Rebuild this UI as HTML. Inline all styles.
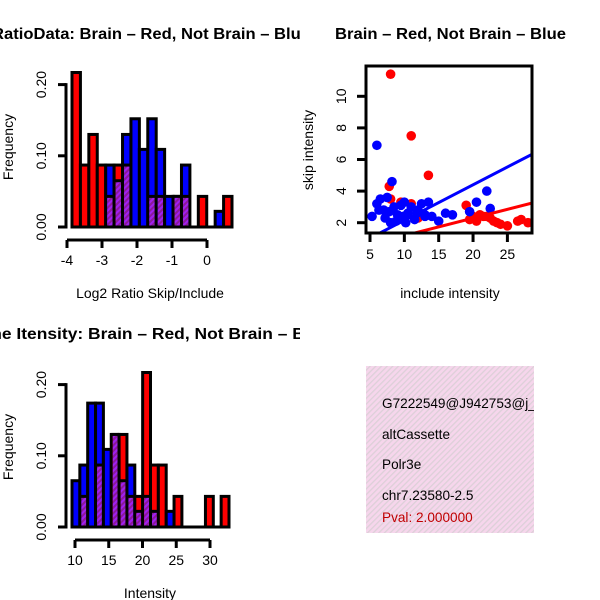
<!DOCTYPE html>
<html><head><meta charset="utf-8"><style>
body{margin:0;background:#fff}
svg{font-family:"Liberation Sans",sans-serif;display:block}
</style></head><body>
<svg id="c" width="600" height="600" viewBox="0 0 600 600">
<defs>
<pattern id="hatchP" width="4" height="4" patternUnits="userSpaceOnUse" patternTransform="rotate(45)"><rect width="4" height="4" fill="#8b1a9a"/><rect width="2" height="4" fill="#a020f0"/></pattern>
<pattern id="pinkH" width="4" height="4" patternUnits="userSpaceOnUse" patternTransform="rotate(45)"><rect width="4" height="4" fill="#f6d6ec"/><rect width="1.3" height="4" fill="#ddd0d8"/></pattern>
<clipPath id="cl1"><rect x="0" y="0" width="300" height="300"/></clipPath>
<clipPath id="cl3"><rect x="0" y="300" width="300" height="300"/></clipPath>
<clipPath id="cl2"><rect x="366" y="66" width="166" height="167"/></clipPath>
</defs>
<g clip-path="url(#cl1)"><text x="-8" y="39" font-weight="bold" font-size="16" textLength="318" lengthAdjust="spacingAndGlyphs">RatioData: Brain – Red, Not Brain – Blue</text></g>
<text x="335" y="39" font-weight="bold" font-size="16" textLength="231" lengthAdjust="spacingAndGlyphs">Brain – Red, Not Brain – Blue</text>
<g clip-path="url(#cl3)"><text x="-32" y="339" font-weight="bold" font-size="16" textLength="362" lengthAdjust="spacingAndGlyphs">Gene Itensity: Brain – Red, Not Brain – Blue</text></g>
<g id="p1"></g><g id="p2"></g><g id="p3"></g>
<g>
<rect x="366" y="366" width="168" height="167" fill="url(#pinkH)"/>
<svg x="366" y="366" width="168" height="167" overflow="hidden"><g font-size="13.6">
<text x="16" y="42">G7222549@J942753@j_</text>
<text x="16" y="73">altCassette</text>
<text x="16" y="103">Polr3e</text>
<text x="16" y="134">chr7.23580-2.5</text>
<text x="16" y="156" fill="#c00000">Pval: 2.000000</text>
</g></svg></g>
</svg>
<script>
const ratioRed=[0.217,0.087,0.13,0.087,0.043,0.087,0.087,0,0,0.043,0.043,0,0.043,0.043,0,0.043,0,0,0.043];
const ratioBlue=[0,0,0,0,0.087,0.065,0.13,0.152,0.109,0.152,0.109,0.043,0.043,0.087,0,0,0,0.022,0];
const ratioTicks=[-4,-3,-2,-1,0];
const intRed=[0,0.043,0,0.087,0,0.13,0.13,0.043,0.043,0.217,0.087,0.087,0,0.043,0,0,0,0.043,0,0.043];
const intBlue=[0.065,0.087,0.174,0.174,0.109,0.13,0.065,0.087,0.022,0.043,0.022,0,0.022,0,0,0,0,0,0,0];
const intTicks=[10,15,20,25,30];
const freqTicks=[0,0.1,0.2];
const redX=[8,11,13.5,7.8,8,9.5,11,12,19,20,21,22,23,24,25,26.5,27,28,19.5,22.5,20.5,21.5,23.5];
const redY=[11.4,7.5,5,4.3,3.5,3.3,3.2,2.3,3.1,2.4,2.5,2.4,2.1,1.9,1.8,2.1,2.2,2.0,2.2,2.3,2.1,2.4,2.0];
const blueX=[6,8.2,5.3,6,6.5,7,7.5,8,8.5,9,9.5,10,10.5,11,11.5,12,12.5,13,13.5,14,6.3,7.2,8.8,9.8,15,16,17,19.5,20.5,22,22.5,10.2,11.8,13,7.8];
const blueY=[6.9,4.6,2.4,3.2,3.5,2.8,3.6,2.0,3.0,2.5,3.1,3.3,2.6,3.0,2.2,2.8,3.2,2.5,3.3,2.4,2.8,2.3,2.1,2.4,2.1,2.6,2.5,2.7,3.3,4.0,2.9,2.0,2.6,2.4,2.7];
const fitBlue=[0.225,-0.1], fitRed=[0.111,0.07];
const xTicks=[5,10,15,20,25], yTicks=[2,4,6,8,10];
const NS="http://www.w3.org/2000/svg";
const FS=14;
function mk(p,t,a){const e=document.createElementNS(NS,t);for(const k in a)e.setAttribute(k,a[k]);p.appendChild(e);return e;}
function hist(g,red,blue,ticks,x0,x1,px0,ppu,v0,oy,xlab,name){
  const y=v=>oy+160-v/0.1*71.2;
  const xs=v=>px0+(v-v0)*ppu;
  const n=red.length,bw=(x1-x0)/n;
  for(let i=0;i<n;i++){const r=red[i],b=blue[i];if(r===0&&b===0)continue;
    const mx=Math.max(r,b),mn=Math.min(r,b);const bx=x0+i*bw;
    const big=mk(g,'rect',{x:bx,y:y(mx),width:bw,height:y(0)-y(mx),fill:r>=b?'#ff0000':'#0000ff',stroke:'#000','stroke-width':3});
    
    
    if(mn>0){const o=mk(g,'rect',{x:bx+1.5,y:y(mn),width:bw-3,height:y(0)-y(mn)-1.5,fill:'url(#hatchP)'});
      
      
      mk(g,'line',{x1:bx,x2:bx+bw,y1:y(mn),y2:y(mn),stroke:'#000','stroke-width':3});}
  }
  mk(g,'line',{x1:x0,x2:x1,y1:y(0),y2:y(0),stroke:'#000','stroke-width':3});
  mk(g,'line',{x1:66,x2:66,y1:y(0)+1.5,y2:y(0.2)-1.5,stroke:'#000','stroke-width':3});
  freqTicks.forEach(t=>{mk(g,'line',{x1:58,x2:66,y1:y(t),y2:y(t),stroke:'#000','stroke-width':3});
    const tx=mk(g,'text',{x:46,y:y(t),'font-size':FS,'text-anchor':'middle',transform:`rotate(-90 46 ${y(t)})`});tx.textContent=t.toFixed(2);
    
    });
  const ax=oy+173;
  mk(g,'line',{x1:xs(ticks[0]),x2:xs(ticks[ticks.length-1]),y1:ax,y2:ax,stroke:'#000','stroke-width':3});
  ticks.forEach(t=>{mk(g,'line',{x1:xs(t),x2:xs(t),y1:ax,y2:ax+8,stroke:'#000','stroke-width':3});
    const tx=mk(g,'text',{x:xs(t),y:ax+25,'font-size':FS,'text-anchor':'middle'});tx.textContent=t;
    
    });
  const yl=mk(g,'text',{x:13,y:oy+80,'font-size':FS,'text-anchor':'middle',transform:`rotate(-90 13 ${oy+80})`});yl.textContent='Frequency';
  
  
  const xl=mk(g,'text',{x:150,y:oy+231,'font-size':FS,'text-anchor':'middle'});xl.textContent=xlab;
  
  
}
hist(document.getElementById('p1'),ratioRed,ratioBlue,ratioTicks,72,232,67,35,-4,67,'Log2 Ratio Skip/Include','ratio');
hist(document.getElementById('p3'),intRed,intBlue,intTicks,72,229,75,6.75,10,367,'Intensity','intensity');
(function(){const g=document.getElementById('p2');
 const X=v=>370+(v-5)*6.87, Y=v=>222.7-(v-2)*15.8;
 const pg=mk(g,'g',{'clip-path':'url(#cl2)'});
 redX.forEach((v,i)=>{const c=mk(pg,'circle',{cx:X(v),cy:Y(redY[i]),r:4.8,fill:'#ff0000'});
  
  });
 blueX.forEach((v,i)=>{const c=mk(pg,'circle',{cx:X(v),cy:Y(blueY[i]),r:4.8,fill:'#0000ff'});
  
  });
 [[fitRed,'#ff0000','brain-fit-line'],[fitBlue,'#0000ff','not-brain-fit-line']].forEach(([f,col,n])=>{
  const l=mk(pg,'line',{x1:X(0),y1:Y(f[1]),x2:X(30),y2:Y(f[0]*30+f[1]),stroke:col,'stroke-width':3});
  
  });
 mk(g,'rect',{x:366,y:66,width:166,height:167,fill:'none',stroke:'#000','stroke-width':3});
 xTicks.forEach(t=>{mk(g,'line',{x1:X(t),x2:X(t),y1:234,y2:242,stroke:'#000','stroke-width':3});
  const tx=mk(g,'text',{x:X(t),y:259,'font-size':FS,'text-anchor':'middle'});tx.textContent=t;
  
  });
 yTicks.forEach(t=>{mk(g,'line',{x1:357,x2:366,y1:Y(t),y2:Y(t),stroke:'#000','stroke-width':3});
  const tx=mk(g,'text',{x:346,y:Y(t),'font-size':FS,'text-anchor':'middle',transform:`rotate(-90 346 ${Y(t)})`});tx.textContent=t;
  
  });
 const yl=mk(g,'text',{x:313,y:150,'font-size':FS,'text-anchor':'middle',transform:'rotate(-90 313 150)'});yl.textContent='skip intensity';
 
 
 const xl=mk(g,'text',{x:450,y:298,'font-size':FS,'text-anchor':'middle'});xl.textContent='include intensity';
 
 
})();
</script>
</body></html>
